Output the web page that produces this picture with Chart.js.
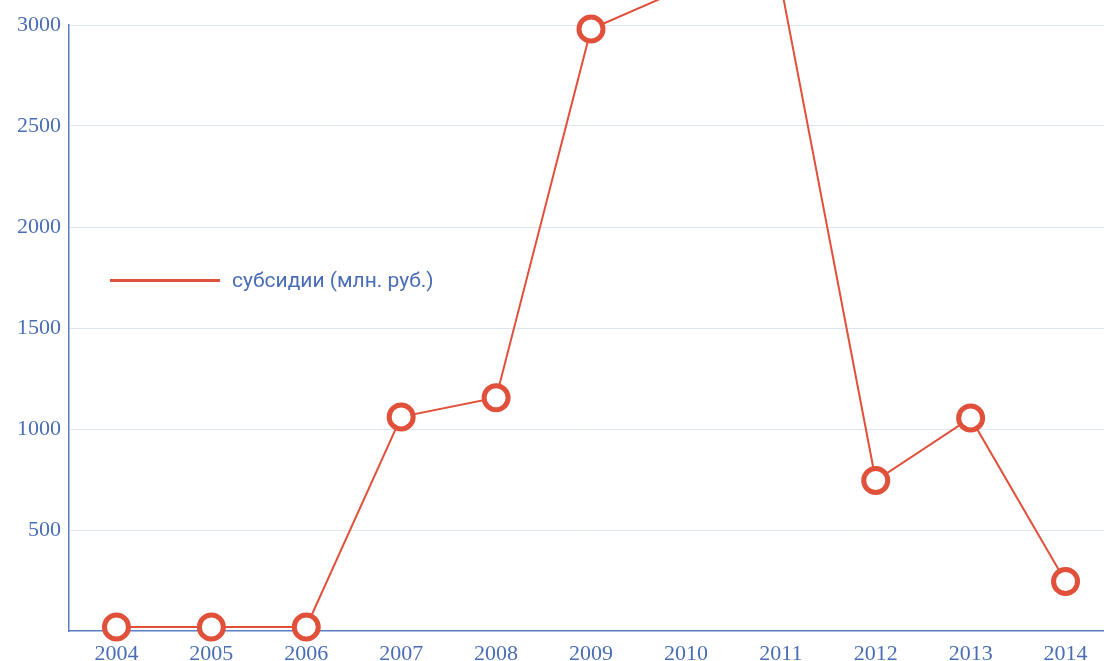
<!DOCTYPE html>
<html>
<head>
    <title>субсидии (млн. руб.)</title>
    <script src="https://cdn.jsdelivr.net/npm/chart.js"></script>
    <style>
        body { margin: 0; overflow: hidden; background: #fff; }
        #wrap { position: relative; width: 1104px; height: 661px; overflow: hidden; }
        #myChart { position: absolute; left: 0; top: 0; }
        #legend { position: absolute; left: 110px; top: 268px; font-family: Roboto, "Liberation Sans", sans-serif;
                  font-size: 21px; color: #4a6db5; display: flex; align-items: center; }
        #legend span.ln { display: inline-block; width: 110px; height: 3px; background: #e0503a; margin-right: 12px; }
    </style>
</head>
<body>
    <div id="wrap">
        <canvas id="myChart" width="1130" height="661"></canvas>
        <div id="legend"><span class="ln"></span><span id="legendText"></span></div>
    </div>
    <script>
        const years = ['2004', '2005', '2006', '2007', '2008', '2009', '2010', '2011', '2012', '2013', '2014'];
        const subsidies = [20, 20, 20, 1060, 1155, 2980, 3185, 3200, 745, 1055, 245];
        const seriesName = 'субсидии (млн. руб.)';

        const red = '#e0503a';
        const blue = '#4a6db5';
        const tickFont = { family: 'Georgia, "Liberation Serif", serif', size: 22 };

        document.getElementById('legendText').textContent = seriesName;

        const ctx = document.getElementById('myChart').getContext('2d');
        const myChart = new Chart(ctx, {
            type: 'line',
            data: {
                labels: years,
                datasets: [{
                    label: seriesName,
                    data: subsidies,
                    borderColor: red,
                    borderWidth: 2,
                    pointRadius: 12,
                    pointBorderWidth: 5,
                    pointBackgroundColor: '#ffffff',
                    pointBorderColor: red,
                    tension: 0,
                    clip: false
                }]
            },
            options: {
                responsive: false,
                animation: false,
                layout: { padding: { top: 25, right: 1, left: 0, bottom: 0 } },
                plugins: {
                    legend: { display: false },
                    tooltip: { enabled: false }
                },
                scales: {
                    x: {
                        offset: true,
                        grid: { display: false },
                        border: { color: '#5a7cc2', width: 1.5 },
                        ticks: { color: blue, font: tickFont, padding: 2, maxRotation: 0 },
                        afterFit: scale => { scale.height = 30; }
                    },
                    y: {
                        min: 0,
                        max: 3000,
                        grid: { color: '#dce4f1', drawTicks: false },
                        border: { color: '#5a7cc2', width: 1.5 },
                        ticks: {
                            stepSize: 500,
                            color: blue,
                            font: tickFont,
                            padding: 8,
                            callback: v => (v === 0 ? null : v)
                        },
                        afterFit: scale => { scale.width = 69; }
                    }
                }
            }
        });
    </script>
</body>
</html>
